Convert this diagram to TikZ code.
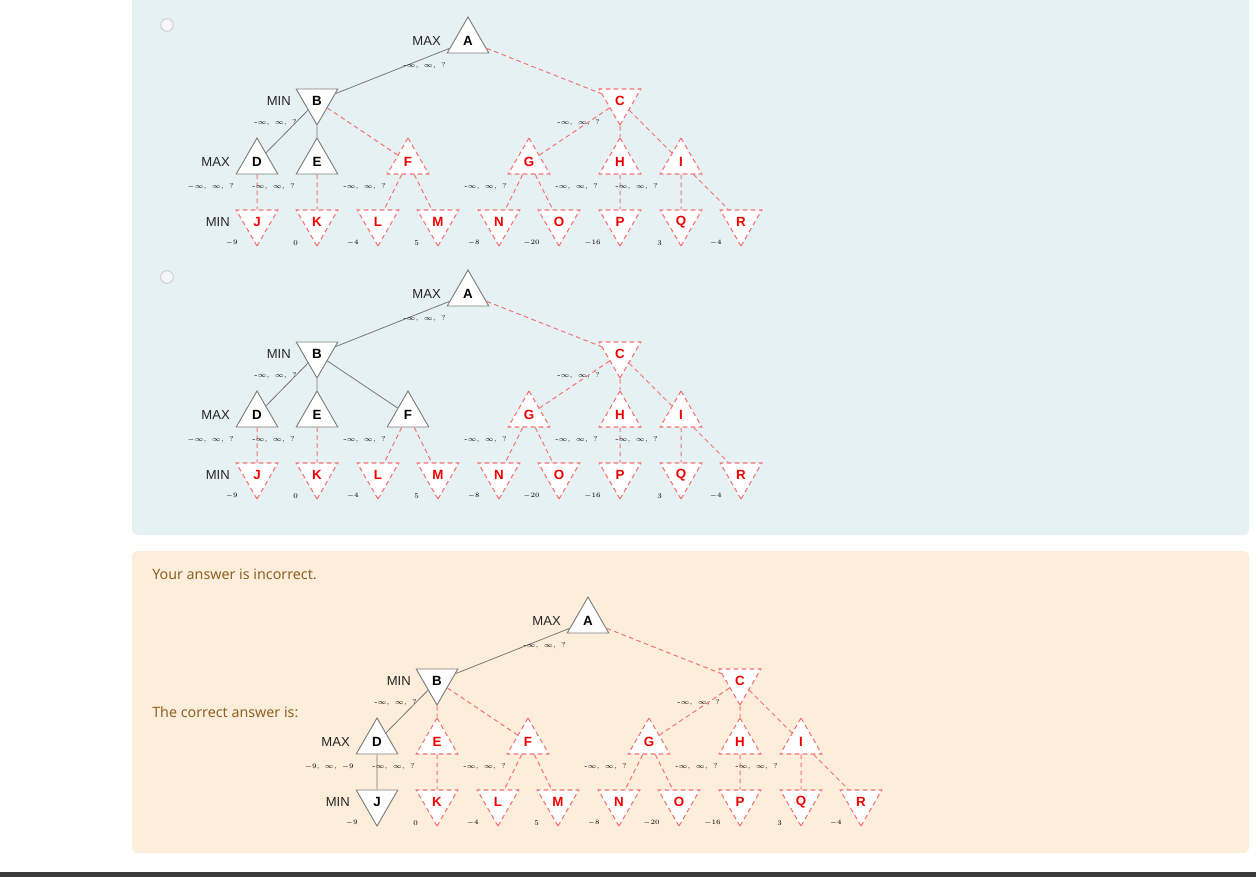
\documentclass[tikz,border=0pt]{standalone}
\usepackage{fontspec}
\usetikzlibrary{shapes.geometric}
\newfontfamily\uifont{Noto Sans}
\newfontfamily\lsans{Liberation Sans}
\definecolor{panelblue}{RGB}{230,241,244}
\definecolor{panelbeige}{RGB}{252,238,219}
\definecolor{barcol}{RGB}{58,58,58}
\definecolor{fbtext}{RGB}{142,98,36}
\definecolor{nodegray}{RGB}{125,125,125}
\definecolor{edgegray}{RGB}{120,120,120}
\definecolor{dashred}{RGB}{245,115,115}
\definecolor{letred}{RGB}{240,0,0}
\definecolor{radioborder}{RGB}{205,205,205}
\definecolor{radiofill}{RGB}{244,246,247}
\tikzset{
  tri/.style={regular polygon, regular polygon sides=3, minimum size=36pt, inner sep=0pt,
    line width=0.7pt, font=\lsans\bfseries\fontsize{10}{11}\selectfont},
  up/.style={tri},
  dn/.style={tri, regular polygon rotate=180},
  vis/.style={draw=nodegray, fill=white, text=black},
  unv/.style={draw=dashred, line width=0.8pt, dash pattern=on 3.5pt off 2.5pt, fill=white, text=letred},
  visE/.style={draw=edgegray, line width=0.6pt},
  unvE/.style={draw=dashred, line width=0.75pt, dash pattern=on 3.5pt off 2.5pt},
  lvl/.style={anchor=east, inner sep=0pt, font=\lsans\fontsize{9.8}{10}\selectfont, text=black!85},
  ab/.style={anchor=east, inner sep=0pt, font=\fontsize{5.3}{6}\selectfont},
  val/.style={anchor=east, inner sep=0pt, font=\fontsize{5.5}{6}\selectfont},
  fb/.style={anchor=west, inner sep=0pt, text=fbtext, font=\uifont\fontsize{10.7}{13}\selectfont},
  radio/.style={circle, draw=radioborder, fill=radiofill, line width=0.7pt, minimum size=9.5pt, inner sep=0pt},
  nA/.style=unv, nB/.style=unv, nC/.style=unv, nD/.style=unv, nE/.style=unv, nF/.style=unv,
  nG/.style=unv, nH/.style=unv, nI/.style=unv, nJ/.style=unv, nK/.style=unv, nL/.style=unv,
  nM/.style=unv, nN/.style=unv, nO/.style=unv, nP/.style=unv, nQ/.style=unv, nR/.style=unv,
  eB/.style=unvE, eC/.style=unvE, eD/.style=unvE, eE/.style=unvE, eF/.style=unvE,
  eG/.style=unvE, eH/.style=unvE, eI/.style=unvE, eJ/.style=unvE, eK/.style=unvE,
  eL/.style=unvE, eM/.style=unvE, eN/.style=unvE, eO/.style=unvE, eP/.style=unvE,
  eQ/.style=unvE, eR/.style=unvE
}
\newcommand\abtxt{-$\infty$,\hspace{4pt}$\infty$,\hspace{4pt}?}
\newcommand\drawtree[2]{%
  % nodes
  \node[up,nA] (#1A) at (468,41) {A};
  \node[dn,nB] (#1B) at (317,101) {B};
  \node[dn,nC] (#1C) at (620,101) {C};
  \node[up,nD] (#1D) at (257,162) {D};
  \node[up,nE] (#1E) at (317,162) {E};
  \node[up,nF] (#1F) at (408,162) {F};
  \node[up,nG] (#1G) at (529,162) {G};
  \node[up,nH] (#1H) at (620,162) {H};
  \node[up,nI] (#1I) at (681,162) {I};
  \node[dn,nJ] (#1J) at (257,222) {J};
  \node[dn,nK] (#1K) at (317,222) {K};
  \node[dn,nL] (#1L) at (378,222) {L};
  \node[dn,nM] (#1M) at (438,222) {M};
  \node[dn,nN] (#1N) at (499,222) {N};
  \node[dn,nO] (#1O) at (559,222) {O};
  \node[dn,nP] (#1P) at (620,222) {P};
  \node[dn,nQ] (#1Q) at (681,222) {Q};
  \node[dn,nR] (#1R) at (741,222) {R};
  % edges
  \draw[eB] (#1A) -- (#1B);
  \draw[eC] (#1A) -- (#1C);
  \draw[eD] (#1B) -- (#1D);
  \draw[eE] (#1B) -- (#1E);
  \draw[eF] (#1B) -- (#1F);
  \draw[eG] (#1C) -- (#1G);
  \draw[eH] (#1C) -- (#1H);
  \draw[eI] (#1C) -- (#1I);
  \draw[eJ] (#1D) -- (#1J);
  \draw[eK] (#1E) -- (#1K);
  \draw[eL] (#1F) -- (#1L);
  \draw[eM] (#1F) -- (#1M);
  \draw[eN] (#1G) -- (#1N);
  \draw[eO] (#1G) -- (#1O);
  \draw[eP] (#1H) -- (#1P);
  \draw[eQ] (#1I) -- (#1Q);
  \draw[eR] (#1I) -- (#1R);
  % level labels
  \node[lvl] (#1mA) at (441,41) {MAX};
  \node[lvl] (#1mB) at (291,101) {MIN};
  \node[lvl] (#1mD) at (230,162) {MAX};
  \node[lvl] (#1mJ) at (230,222) {MIN};
  % alpha-beta labels
  \node[ab] (#1aA) at (446,66) {\abtxt};
  \node[ab] (#1aB) at (297,123) {\abtxt};
  \node[ab] (#1aC) at (600,123) {\abtxt};
  \node[ab] (#1aD) at (234,187) {#2};
  \node[ab] (#1aE) at (295,187) {\abtxt};
  \node[ab] (#1aF) at (386,187) {\abtxt};
  \node[ab] (#1aG) at (507,187) {\abtxt};
  \node[ab] (#1aH) at (598,187) {\abtxt};
  \node[ab] (#1aI) at (658,187) {\abtxt};
  % leaf values
  \node[val] (#1vJ) at (238,243) {$-9$};
  \node[val] (#1vK) at (298,243) {0};
  \node[val] (#1vL) at (359,243) {$-4$};
  \node[val] (#1vM) at (419,243) {5};
  \node[val] (#1vN) at (480,243) {$-8$};
  \node[val] (#1vO) at (540,243) {$-20$};
  \node[val] (#1vP) at (601,243) {$-16$};
  \node[val] (#1vQ) at (662,243) {3};
  \node[val] (#1vR) at (722,243) {$-4$};
}
\begin{document}
\begin{tikzpicture}[x=0.75pt,y=-0.75pt]
\useasboundingbox (0,0) rectangle (1256,877);
\fill[white] (0,0) rectangle (1256,877);
% panels
\fill[panelblue, rounded corners=4.5pt] (132,-20) rectangle (1249,535);
\fill[panelbeige, rounded corners=4.5pt] (132,551) rectangle (1249,853);
\fill[barcol] (0,872) rectangle (1256,877);
% radios
\node[radio] (r1) at (167,25) {};
\node[radio] (r2) at (167,277) {};
% feedback texts
\node[fb] (fb1) at (152,574) {Your answer is incorrect.};
\node[fb] (fb2) at (152,712) {The correct answer is:};
% tree 1
\begin{scope}[nA/.style=vis, nB/.style=vis, nD/.style=vis, nE/.style=vis,
              eB/.style=visE, eD/.style=visE, eE/.style=visE]
  \drawtree{a}{$-\infty$,\hspace{4pt}$\infty$,\hspace{4pt}?}
\end{scope}
% tree 2
\begin{scope}[shift={(0,253)}, nA/.style=vis, nB/.style=vis, nD/.style=vis, nE/.style=vis, nF/.style=vis,
              eB/.style=visE, eD/.style=visE, eE/.style=visE, eF/.style=visE]
  \drawtree{b}{$-\infty$,\hspace{4pt}$\infty$,\hspace{4pt}?}
\end{scope}
% tree 3
\begin{scope}[shift={(120,580)}, nA/.style=vis, nB/.style=vis, nD/.style=vis, nJ/.style=vis,
              eB/.style=visE, eD/.style=visE, eJ/.style=visE]
  \drawtree{c}{$-9$,\hspace{4pt}$\infty$,\hspace{4pt}$-9$}
\end{scope}
\end{tikzpicture}
\end{document}
